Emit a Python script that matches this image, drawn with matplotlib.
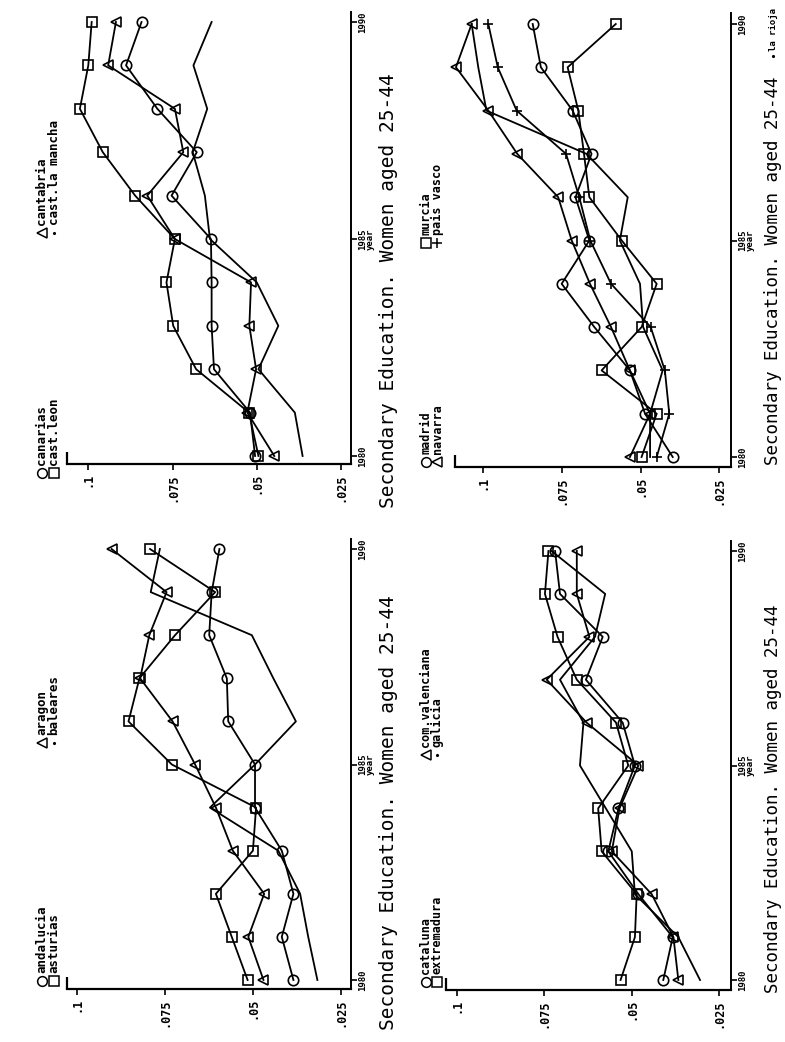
import matplotlib
matplotlib.use("Agg")
import matplotlib.pyplot as plt
from matplotlib.lines import Line2D

years = list(range(1980, 1991))

# --- top-left panel ---
canarias = [0.0505, 0.0520, 0.0627, 0.0634, 0.0634, 0.0636, 0.0753, 0.0678, 0.0795, 0.0888, 0.0842]
cast_leon = [0.0495, 0.0523, 0.0680, 0.0748, 0.0768, 0.0743, 0.0861, 0.0957, 0.1025, 0.1000, 0.0990]
cantabria = [0.0448, 0.0528, 0.0502, 0.0522, 0.0517, 0.0743, 0.0825, 0.0718, 0.0743, 0.0941, 0.0918]
cast_la_mancha = [0.0364, 0.0387, 0.0495, 0.0436, 0.0500, 0.0639, 0.0654, 0.0690, 0.0647, 0.0688, 0.0634]

# --- bottom-left panel ---
andalucia = [0.0385, 0.0418, 0.0385, 0.0418, 0.0494, 0.0494, 0.0570, 0.0574, 0.0624, 0.0617, 0.0595]
asturias = [0.0515, 0.0560, 0.0605, 0.0500, 0.0491, 0.0730, 0.0853, 0.0822, 0.0721, 0.0607, 0.0792]
aragon = [0.0470, 0.0513, 0.0468, 0.0557, 0.0605, 0.0664, 0.0728, 0.0820, 0.0794, 0.0745, 0.0901]
baleares = [0.0317, 0.0343, 0.0366, 0.0428, 0.0622, 0.0494, 0.0378, 0.0442, 0.0503, 0.0790, 0.0764]

# --- top-right panel ---
madrid = [0.0398, 0.0486, 0.0534, 0.0647, 0.0751, 0.0663, 0.0707, 0.0656, 0.0716, 0.0817, 0.0843]
navarra = [0.0534, 0.0470, 0.0534, 0.0594, 0.0661, 0.0719, 0.0762, 0.0892, 0.0984, 0.1087, 0.1037]
murcia = [0.0497, 0.0449, 0.0624, 0.0497, 0.0449, 0.0560, 0.0663, 0.0680, 0.0698, 0.0732, 0.0579]
pais_vasco = [0.0449, 0.0409, 0.0423, 0.0468, 0.0594, 0.0660, 0.0695, 0.0737, 0.0894, 0.0954, 0.0984]
la_rioja = [0.0470, 0.0470, 0.0430, 0.0492, 0.0502, 0.0566, 0.0541, 0.0672, 0.0990, 0.1016, 0.1037]

# --- bottom-right panel ---
cataluna = [0.0410, 0.0383, 0.0481, 0.0567, 0.0538, 0.0491, 0.0526, 0.0631, 0.0583, 0.0705, 0.0719]
extremadura = [0.0532, 0.0491, 0.0486, 0.0586, 0.0596, 0.0510, 0.0545, 0.0657, 0.0712, 0.0748, 0.0738]
com_valenciana = [0.0367, 0.0381, 0.0443, 0.0557, 0.0535, 0.0481, 0.0629, 0.0743, 0.0621, 0.0657, 0.0657]
galicia = [0.0305, 0.0367, 0.0491, 0.0500, 0.0574, 0.0648, 0.0638, 0.0705, 0.0605, 0.0576, 0.0729]

value_ticks = [0.1, 0.075, 0.05, 0.025]
value_labels = [".1", ".075", ".05", ".025"]
year_ticks = [1980, 1985, 1990]
title = "Secondary Education. Women aged 25-44"

W, H = 785, 1042
fig = plt.figure(figsize=(W / 100, H / 100), dpi=100)
fig.patch.set_facecolor("white")
MONO = ["DejaVu Sans Mono"]


def fx(x):
    return x / W


def fy(y):
    return 1 - y / H


# The page is printed sideways: value runs right-to-left along the
# horizontal axis, years run bottom-to-top on the vertical axis.
panels = [
    dict(series=[(canarias, "o"), (cast_leon, "s"), (cantabria, "<"), (cast_la_mancha, None)],
         legend=[("o", "canarias", 42, 473), ("s", "cast.leon", 54, 473),
                 ("<", "cantabria", 42, 233), (".", "cast.la mancha", 54, 233)],
         legend_size=9,
         vpx=(88.3, 341.0), ypx=(456.0, 22.0), box=(67, 351, 12, 464),
         title_xy=(388, 508), title_size=14),
    dict(series=[(andalucia, "o"), (asturias, "s"), (aragon, "<"), (baleares, None)],
         legend=[("o", "andalucia", 42, 981), ("s", "asturias", 54, 981),
                 ("<", "aragon", 42, 743), (".", "baleares", 54, 743)],
         legend_size=9,
         vpx=(76.7, 341.0), ypx=(980.0, 549.0), box=(67, 351, 539, 989),
         title_xy=(388, 1030), title_size=14),
    dict(series=[(madrid, "o"), (navarra, "<"), (murcia, "s"), (pais_vasco, "+"), (la_rioja, None)],
         legend=[("o", "madrid", 426, 462), ("<", "navarra", 437, 462),
                 ("s", "murcia", 426, 243), ("+", "pais vasco", 437, 243)],
         legend_size=8.5,
         vpx=(483.3, 719.3), ypx=(457.0, 24.0), box=(455, 731, 13, 467),
         title_xy=(773, 465), title_size=12.6),
    dict(series=[(cataluna, "o"), (extremadura, "s"), (com_valenciana, "<"), (galicia, None)],
         legend=[("o", "cataluna", 426, 982), ("s", "extremadura", 437, 982),
                 ("<", "com.valenciana", 426, 755), (".", "galicia", 437, 755)],
         legend_size=8.5,
         vpx=(456.7, 719.3), ypx=(980.0, 551.0), box=(446, 731, 541, 990),
         title_xy=(773, 993), title_size=12.6),
]

for p in panels:
    p1, p025 = p["vpx"]
    y80, y90 = p["ypx"]
    x0, x1, top, bot = p["box"]

    def val_at(x):
        return 0.1 - (x - p1) / (p025 - p1) * 0.075

    def yr_at(y):
        return 1980 + (y80 - y) / (y80 - y90) * 10

    ax = fig.add_axes([fx(x0), fy(bot), (x1 - x0) / W, (bot - top) / H])
    ax.set_xlim(val_at(x0), val_at(x1))
    ax.set_ylim(yr_at(bot), yr_at(top))
    ax.patch.set_alpha(0)

    for values, marker in p["series"]:
        if marker is None:
            ax.plot(values, years, color="black", lw=1.3, clip_on=False)
        else:
            ax.plot(values, years, color="black", lw=1.3, marker=marker,
                    ms=7.5 if marker != "+" else 7, mfc="none", mec="black",
                    mew=1.2, clip_on=False)

    for side in ("left", "top"):
        ax.spines[side].set_visible(False)
    ax.spines["bottom"].set_linewidth(1.6)
    ax.spines["right"].set_linewidth(1.4)

    # short upright stub closing the far end of the value axis
    ax.plot([0, 0], [0, 12.0 / (bot - top)], transform=ax.transAxes,
            color="black", lw=1.6, clip_on=False, solid_capstyle="butt")

    ax.set_xticks(value_ticks)
    ax.set_xticklabels(value_labels, rotation=90, fontfamily=MONO,
                       fontsize=8.5, fontweight="bold")
    ax.yaxis.tick_right()
    ax.set_yticks(year_ticks)
    ax.set_yticklabels([str(y) for y in year_ticks], rotation=90,
                       fontfamily=MONO, fontsize=6.5, fontweight="bold",
                       va="center")
    ax.tick_params(axis="x", direction="out", length=4.5, width=1.2, pad=2)
    ax.tick_params(axis="y", direction="out", length=4.5, width=1.2, pad=0.5)

    # axis title just beside the middle year label
    ax.text(1.0 + 14.5 / (x1 - x0), 1985, "year",
            transform=ax.get_yaxis_transform(), rotation=90, ha="left",
            va="center", fontfamily=MONO, fontsize=6.5, fontweight="bold")

    # legend keys
    for marker, label, lx, ly in p["legend"]:
        if marker == ".":
            fig.add_artist(Line2D([fx(lx)], [fy(ly)], marker=".", ms=2.5,
                                  color="black", transform=fig.transFigure))
        else:
            fig.add_artist(Line2D([fx(lx)], [fy(ly)], marker=marker,
                                  ms=7, mfc="none", mec="black", mew=1.1,
                                  color="black", transform=fig.transFigure))
        fig.text(fx(lx), fy(ly - 8), label, rotation=90, ha="center",
                 va="bottom", fontfamily=MONO, fontsize=p["legend_size"],
                 fontweight="bold")

    tx, ty = p["title_xy"]
    fig.text(fx(tx), fy(ty), title, rotation=90, ha="center", va="bottom",
             fontfamily=MONO, fontsize=p["title_size"])

# third legend column of the top-right panel sits past the title
fig.add_artist(Line2D([fx(773)], [fy(56)], marker=".", ms=2.5,
                      color="black", transform=fig.transFigure))
fig.text(fx(773), fy(51), "la rioja", rotation=90, ha="center", va="bottom",
         fontfamily=MONO, fontsize=6.5, fontweight="bold")

fig.savefig("out.png", dpi=100, facecolor="white")
